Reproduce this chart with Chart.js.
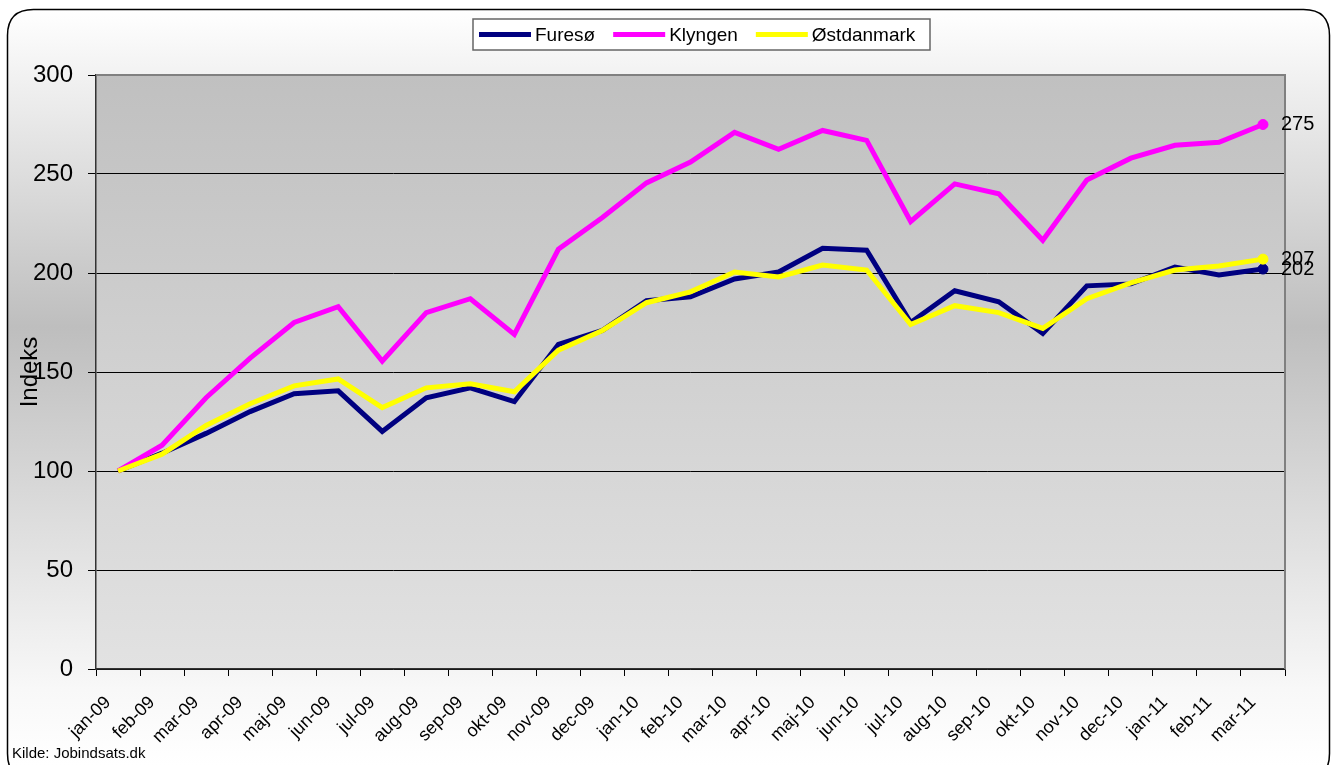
<!DOCTYPE html>
<html lang="da">
<head>
    <meta charset="UTF-8">
    <title>Indeks - Furesø, Klyngen, Østdanmark</title>
    <script src="https://cdn.jsdelivr.net/npm/chart.js"></script>
    <style>
        body {
            margin: 0;
            background: white;
        }
        .chart-container {
            position: relative;
            width: 1332px;
            height: 765px;
        }
    </style>
</head>
<body>
    <div class="chart-container">
        <canvas id="indexChart"></canvas>
    </div>

<script>
    const months = ["jan-09", "feb-09", "mar-09", "apr-09", "maj-09", "jun-09", "jul-09", "aug-09", "sep-09", "okt-09", "nov-09", "dec-09",
        "jan-10", "feb-10", "mar-10", "apr-10", "maj-10", "jun-10", "jul-10", "aug-10", "sep-10", "okt-10", "nov-10", "dec-10",
        "jan-11", "feb-11", "mar-11"];

    const seriesNames = ["Furesø", "Klyngen", "Østdanmark"];
    const seriesColors = ["#000080", "#ff00ff", "#ffff00"];

    const furesoe = [100, 109, 119, 130, 139, 140.5, 120, 137, 142, 135, 164, 171, 186, 188, 197, 200.5, 212.5, 211.5, 175, 191, 185.5, 169.5, 193.5, 194.5, 203, 199, 202];
    const klyngen = [100, 113, 137, 157, 175, 183, 155.5, 180, 187, 169, 212, 228, 245.5, 256, 271, 262.5, 272, 267, 226, 245, 240, 216.5, 247, 258, 264.5, 266, 275];
    const oestdanmark = [100, 108.5, 123, 134, 143, 146.5, 132, 142, 144, 140, 161, 171, 185, 190.5, 200.5, 198, 204, 201.5, 174, 183.5, 180, 172, 187, 195, 201.5, 203.5, 207];

    const yTicks = [0, 50, 100, 150, 200, 250, 300];
    const endLabels = ["202", "275", "207"];
    const sourceText = "Kilde: Jobindsats.dk";

    const sansFont = "'Liberation Sans', Arial, sans-serif";
    const narrowFont = "'Liberation Sans Narrow', 'Arial Narrow', 'Liberation Sans', sans-serif";

    // only the last point gets a marker
    function lastPointRadius(arr) {
        return arr.map((v, i) => i === arr.length - 1 ? 5 : 0);
    }

    const allSeries = [furesoe, klyngen, oestdanmark];
    const drawOrder = [2, 1, 0]; // yellow on top

    const datasets = allSeries.map((values, i) => ({
        label: seriesNames[i],
        data: values,
        borderColor: seriesColors[i],
        backgroundColor: seriesColors[i],
        borderWidth: 5,
        pointRadius: lastPointRadius(values),
        pointBorderWidth: 1,
        pointBorderColor: seriesColors[i],
        pointBackgroundColor: seriesColors[i],
        tension: 0,
        order: drawOrder[i]
    }));

    function roundRect(ctx, x, y, w, h, r) {
        ctx.beginPath();
        ctx.moveTo(x + r, y);
        ctx.lineTo(x + w - r, y);
        ctx.quadraticCurveTo(x + w, y, x + w, y + r);
        ctx.lineTo(x + w, y + h - r);
        ctx.quadraticCurveTo(x + w, y + h, x + w - r, y + h);
        ctx.lineTo(x + r, y + h);
        ctx.quadraticCurveTo(x, y + h, x, y + h - r);
        ctx.lineTo(x, y + r);
        ctx.quadraticCurveTo(x, y, x + r, y);
        ctx.closePath();
    }

    const decorPlugin = {
        id: "decor",
        beforeDraw(chart) {
            const ctx = chart.ctx;
            const area = chart.chartArea;
            ctx.save();
            ctx.fillStyle = "white";
            ctx.fillRect(0, 0, chart.width, chart.height);

            // outer frame with vertical gradient
            let g = ctx.createLinearGradient(0, 10, 0, 765);
            g.addColorStop(0, "#ffffff");
            g.addColorStop(0.42, "#bebebe");
            g.addColorStop(0.9, "#f8f8f8");
            g.addColorStop(1, "#ffffff");
            roundRect(ctx, 7.5, 9.5, 1322, 770, 26);
            ctx.fillStyle = g;
            ctx.fill();
            ctx.lineWidth = 1.5;
            ctx.strokeStyle = "#000";
            ctx.stroke();

            // plot area gradient
            let pg = ctx.createLinearGradient(0, area.top, 0, area.bottom);
            pg.addColorStop(0, "#c0c0c0");
            pg.addColorStop(1, "#e2e2e2");
            ctx.fillStyle = pg;
            ctx.fillRect(area.left, area.top, area.right - area.left, area.bottom - area.top);
            ctx.restore();
        },
        afterDatasetsDraw(chart) {
            const ctx = chart.ctx;
            const area = chart.chartArea;
            ctx.save();

            // gray border top + right
            ctx.strokeStyle = "#808080";
            ctx.lineWidth = 2;
            ctx.beginPath();
            ctx.moveTo(area.left, area.top);
            ctx.lineTo(area.right, area.top);
            ctx.lineTo(area.right, area.bottom);
            ctx.stroke();

            // value labels at the last point
            ctx.fillStyle = "#000";
            ctx.font = "20px " + sansFont;
            ctx.textBaseline = "middle";
            ctx.textAlign = "left";
            chart.data.datasets.forEach((ds, i) => {
                const meta = chart.getDatasetMeta(i);
                const pt = meta.data[meta.data.length - 1];
                ctx.fillText(endLabels[i], pt.x + 18, pt.y);
            });

            // legend
            const lx = 473, ly = 19, lw = 457, lh = 31;
            ctx.fillStyle = "#fff";
            ctx.fillRect(lx, ly, lw, lh);
            ctx.strokeStyle = "#666";
            ctx.lineWidth = 1.5;
            ctx.strokeRect(lx, ly, lw, lh);
            ctx.font = "19px " + sansFont;
            let x = lx + 6;
            seriesNames.forEach((name, i) => {
                ctx.strokeStyle = seriesColors[i];
                ctx.lineWidth = 5;
                ctx.beginPath();
                ctx.moveTo(x, ly + lh / 2);
                ctx.lineTo(x + 52, ly + lh / 2);
                ctx.stroke();
                ctx.fillStyle = "#000";
                ctx.fillText(name, x + 56, ly + lh / 2 + 1);
                x += 56 + ctx.measureText(name).width + 18;
            });

            // source
            ctx.font = "15px " + narrowFont;
            ctx.textBaseline = "alphabetic";
            ctx.fillText(sourceText, 12, 758);
            ctx.restore();
        }
    };

    const ctx = document.getElementById("indexChart").getContext("2d");
    const indexChart = new Chart(ctx, {
        type: "line",
        data: {
            labels: months,
            datasets: datasets
        },
        options: {
            responsive: true,
            maintainAspectRatio: false,
            animation: false,
            layout: {
                padding: { top: 75, right: 47, left: 0, bottom: 0 }
            },
            plugins: {
                legend: { display: false },
                tooltip: { enabled: false }
            },
            scales: {
                x: {
                    offset: true,
                    grid: {
                        offset: true,
                        drawOnChartArea: false,
                        color: "#000",
                        tickLength: 7
                    },
                    border: { color: "#333", width: 1.5 },
                    ticks: {
                        autoSkip: false,
                        maxRotation: 45,
                        minRotation: 45,
                        color: "#000",
                        padding: 16,
                        labelOffset: -10,
                        font: { family: narrowFont, size: 18 }
                    },
                    afterFit(scale) {
                        scale.height = 96;
                    }
                },
                y: {
                    min: 0,
                    max: 300,
                    afterBuildTicks(scale) {
                        scale.ticks = yTicks.map(v => ({ value: v }));
                    },
                    grid: {
                        color: c => c.tick && c.tick.value === 300 ? "rgba(0,0,0,0)" : "#000",
                        tickColor: "#000",
                        tickLength: 8
                    },
                    border: { color: "#333", width: 1.5 },
                    ticks: {
                        color: "#000",
                        padding: 15,
                        font: { family: sansFont, size: 24 }
                    },
                    title: {
                        display: true,
                        text: "Indeks",
                        color: "#000",
                        font: { family: sansFont, size: 24 },
                        padding: { top: 16, bottom: 0 }
                    },
                    afterFit(scale) {
                        scale.width = 96;
                    }
                }
            }
        },
        plugins: [decorPlugin]
    });
</script>
</body>
</html>
